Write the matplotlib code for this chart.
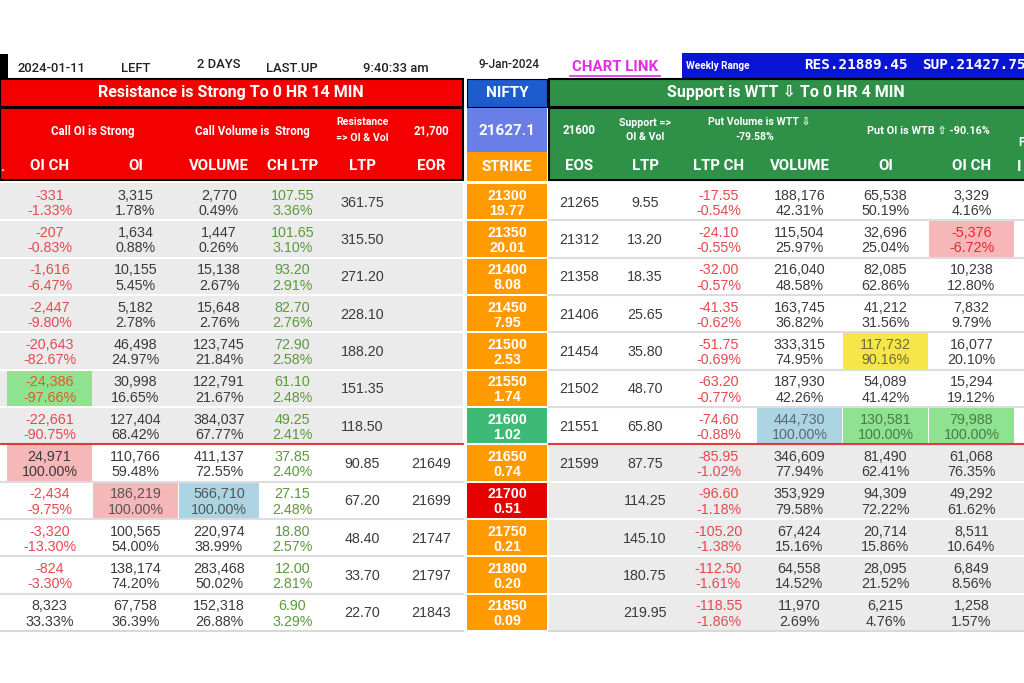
import matplotlib
matplotlib.use("Agg")
import matplotlib.pyplot as plt
from matplotlib.patches import Rectangle

# ---------------- data ----------------
strikes = [21300, 21350, 21400, 21450, 21500, 21550, 21600, 21650, 21700, 21750, 21800, 21850]
pcr = [19.77, 20.01, 8.08, 7.95, 2.53, 1.74, 1.02, 0.74, 0.51, 0.21, 0.20, 0.09]

call_oich = [-331, -207, -1616, -2447, -20643, -24386, -22661, 24971, -2434, -3320, -824, 8323]
call_oich_pct = [-1.33, -0.83, -6.47, -9.80, -82.67, -97.66, -90.75, 100.00, -9.75, -13.30, -3.30, 33.33]
call_oi = [3315, 1634, 10155, 5182, 46498, 30998, 127404, 110766, 186219, 100565, 138174, 67758]
call_oi_pct = [1.78, 0.88, 5.45, 2.78, 24.97, 16.65, 68.42, 59.48, 100.00, 54.00, 74.20, 36.39]
call_vol = [2770, 1447, 15138, 15648, 123745, 122791, 384037, 411137, 566710, 220974, 283468, 152318]
call_vol_pct = [0.49, 0.26, 2.67, 2.76, 21.84, 21.67, 67.77, 72.55, 100.00, 38.99, 50.02, 26.88]
call_chltp = [107.55, 101.65, 93.20, 82.70, 72.90, 61.10, 49.25, 37.85, 27.15, 18.80, 12.00, 6.90]
call_chltp_pct = [3.36, 3.10, 2.91, 2.76, 2.58, 2.48, 2.41, 2.40, 2.48, 2.57, 2.81, 3.29]
call_ltp = [361.75, 315.50, 271.20, 228.10, 188.20, 151.35, 118.50, 90.85, 67.20, 48.40, 33.70, 22.70]
eor = [None, None, None, None, None, None, None, 21649, 21699, 21747, 21797, 21843]

eos = [21265, 21312, 21358, 21406, 21454, 21502, 21551, 21599, None, None, None, None]
put_ltp = [9.55, 13.20, 18.35, 25.65, 35.80, 48.70, 65.80, 87.75, 114.25, 145.10, 180.75, 219.95]
put_ltpch = [-17.55, -24.10, -32.00, -41.35, -51.75, -63.20, -74.60, -85.95, -96.60, -105.20, -112.50, -118.55]
put_ltpch_pct = [-0.54, -0.55, -0.57, -0.62, -0.69, -0.77, -0.88, -1.02, -1.18, -1.38, -1.61, -1.86]
put_vol = [188176, 115504, 216040, 163745, 333315, 187930, 444730, 346609, 353929, 67424, 64558, 11970]
put_vol_pct = [42.31, 25.97, 48.58, 36.82, 74.95, 42.26, 100.00, 77.94, 79.58, 15.16, 14.52, 2.69]
put_oi = [65538, 32696, 82085, 41212, 117732, 54089, 130581, 81490, 94309, 20714, 28095, 6215]
put_oi_pct = [50.19, 25.04, 62.86, 31.56, 90.16, 41.42, 100.00, 62.41, 72.22, 15.86, 21.52, 4.76]
put_oich = [3329, -5376, 10238, 7832, 16077, 15294, 79988, 61068, 49292, 8511, 6849, 1258]
put_oich_pct = [4.16, -6.72, 12.80, 9.79, 20.10, 19.12, 100.00, 76.35, 61.62, 10.64, 8.56, 1.57]

call_headers = ["OI CH", "OI", "VOLUME", "CH LTP", "LTP", "EOR"]
put_headers = ["EOS", "LTP", "LTP CH", "VOLUME", "OI", "OI CH"]
top_labels = ["2024-01-11", "LEFT", "2 DAYS", "LAST.UP", "9:40:33 am", "9-Jan-2024"]
res_banner = "Resistance is Strong To 0 HR 14 MIN"
sup_banner = "Support is WTT \u21e9 To 0 HR 4 MIN"
nifty_spot = "21627.1"
weekly_res = "RES.21889.45"
weekly_sup = "SUP.21427.75"

# ---------------- layout ----------------
W, H = 1024, 683
fig = plt.figure(figsize=(W / 100, H / 100), dpi=100)
ax = fig.add_axes([0, 0, 1, 1])
ax.set_xlim(0, W)
ax.set_ylim(H, 0)
ax.axis("off")

LCOLS = [(7, 92), (93, 178), (179, 259), (260, 325), (325, 400), (400, 463)]
SCOL = (467, 547)
RCOLS = [(549, 610), (610, 680), (680, 757), (757, 842), (843, 928), (929, 1014)]
ROW0, ROWH = 183, 37.33
NROW = len(strikes)

RED = "#f40000"
GREEN = "#2f9048"
ORANGE = "#ff9a00"
GRAY = "#ebebeb"
TXT = "#3a3a3a"
NEG = "#e5484f"
POS_G = "#5a9a3a"
PINK = "#f6b7b9"
LBLUE = "#acd4e2"
LGREEN = "#8fe28f"
YELLOW = "#f7e64a"

DATAFONT = ["Liberation Sans", "DejaVu Sans"]
HEADFONT = ["Roboto", "DejaVu Sans"]


def rect(x0, y0, x1, y1, fc, ec="none", lw=0, z=1):
    ax.add_patch(Rectangle((x0, y0), x1 - x0, y1 - y0, facecolor=fc, edgecolor=ec, linewidth=lw, zorder=z))


def txt(x, y, s, size=10.3, color=TXT, weight="normal", family=DATAFONT, ha="center", **kw):
    ax.text(x, y, s, fontsize=size, color=color, fontweight=weight, family=family,
            ha=ha, va="center", zorder=5, **kw)


def row_y(i):
    return ROW0 + i * ROWH, ROW0 + (i + 1) * ROWH


# ---------------- top info row ----------------
rect(0, 54, 8, 78, "black")
top_x = [51, 136, 219, 292, 396, 509]
top_dy = [68, 68, 64, 68, 68, 65]
for lab, x, y in zip(top_labels, top_x, top_dy):
    txt(x, y, lab, size=9.4 if lab != top_labels[-1] else 8.6, color="#222222",
        weight="medium", family=HEADFONT)
txt(615, 67, "CHART LINK", size=10.8, color="#e22ee6", weight="bold", family=HEADFONT)
ax.plot([570, 660], [75.5, 75.5], color="#e22ee6", lw=1.2, zorder=5)
rect(682, 53, W, 78, "#0a14d4")
txt(686, 66, "Weekly Range", size=7.2, color="white", weight="bold", family=HEADFONT, ha="left")
txt(856, 65, weekly_res, size=10.4, color="white", weight="bold", family=["DejaVu Sans Mono"])
txt(922, 65, weekly_sup, size=10.4, color="white", weight="bold", family=["DejaVu Sans Mono"], ha="left")

# ---------------- headers ----------------
# red call block
rect(0, 79, 463, 107, RED, ec="black", lw=1.5, z=2)
rect(0, 108, 463, 180, RED, ec="black", lw=1.5, z=2)
txt(231, 93, res_banner, size=11.5, color="white", weight="bold", family=HEADFONT)
txt((LCOLS[0][0] + LCOLS[1][1]) / 2, 131, "Call OI is Strong", size=8.3, color="white", weight="bold", family=HEADFONT)
txt((LCOLS[2][0] + LCOLS[3][1]) / 2, 131, "Call Volume is  Strong", size=8.3, color="white", weight="bold", family=HEADFONT)
txt(sum(LCOLS[4]) / 2, 122, "Resistance", size=7.6, color="white", weight="bold", family=HEADFONT)
txt(sum(LCOLS[4]) / 2, 138, "=> OI & Vol", size=7.6, color="white", weight="bold", family=HEADFONT)
txt(sum(LCOLS[5]) / 2, 131, "21,700", size=8.3, color="white", weight="bold", family=HEADFONT)
txt(2, 167, ".", size=10.5, color="white", weight="bold", family=HEADFONT)
for (x0, x1), h in zip(LCOLS, call_headers):
    txt((x0 + x1) / 2, 166, h, size=10.8, color="white", weight="bold", family=HEADFONT)

# middle NIFTY block
rect(SCOL[0], 79, SCOL[1], 107, "#1c5ccc", ec="black", lw=0.8, z=2)
rect(SCOL[0], 108, SCOL[1], 152, "#6a7ee8", z=2)
rect(SCOL[0], 152, SCOL[1], 181, ORANGE, z=2)
cx = sum(SCOL) / 2
txt(cx, 93, "NIFTY", size=11, color="white", weight="bold", family=HEADFONT)
txt(cx, 131, nifty_spot, size=11, color="white", weight="bold", family=HEADFONT)
txt(cx, 167, "STRIKE", size=10.8, color="white", weight="bold", family=HEADFONT)

# green put block
rect(549, 79, W + 2, 107, GREEN, ec="black", lw=1.5, z=2)
rect(549, 108, W + 2, 180, GREEN, ec="black", lw=1.5, z=2)
txt(786, 93, sup_banner, size=11.5, color="white", weight="bold", family=HEADFONT)
txt(sum(RCOLS[0]) / 2, 131, "21600", size=8.3, color="white", weight="bold", family=HEADFONT)
txt(sum(RCOLS[1]) / 2, 123, "Support =>", size=7.6, color="white", weight="bold", family=HEADFONT)
txt(sum(RCOLS[1]) / 2, 137, "OI & Vol", size=7.6, color="white", weight="bold", family=HEADFONT)
txt(759, 122, "Put Volume is WTT \u21e9", size=7.6, color="white", weight="bold", family=HEADFONT)
txt(755, 137, "-79.58%", size=7.6, color="white", weight="bold", family=HEADFONT)
txt((RCOLS[4][0] + RCOLS[5][1]) / 2, 131, "Put OI is WTB \u21e7 -90.16%", size=7.8, color="white", weight="bold", family=HEADFONT)
txt(1018, 143, "P", size=8.3, color="white", weight="bold", family=HEADFONT, ha="left")
txt(1017, 167, "I", size=10.8, color="white", weight="bold", family=HEADFONT, ha="left")
for (x0, x1), h in zip(RCOLS, put_headers):
    txt((x0 + x1) / 2, 166, h, size=10.8, color="white", weight="bold", family=HEADFONT)

# ---------------- data rows ----------------
split = strikes.index(21600)
max_call_oi = strikes[call_oi.index(max(call_oi))]


def fmt_int(v):
    return f"{v:,}"


def fmt_pct(v):
    return f"{v:.2f}%"


for i in range(NROW):
    y0, y1 = row_y(i)
    yc = (y0 + y1) / 2
    upper = i <= split
    lbg = GRAY if upper else "white"
    rbg = "white" if upper else GRAY
    lsep = "white" if upper else "#dddddd"
    rsep = "#dddddd" if upper else "white"
    rect(0, y0, 463, y1, lbg, z=1)
    rect(549, y0, W, y1, rbg, z=1)
    ax.plot([0, 463], [y1, y1], color=lsep, lw=1.5, zorder=1.5)
    ax.plot([549, W], [y1, y1], color=rsep, lw=1.5, zorder=1.5)

    # strike cell
    s = strikes[i]
    sc = "#3dba76" if s == 21600 else ("#e60000" if s == max_call_oi else ORANGE)
    rect(SCOL[0], y0 + 1, SCOL[1], y1 - 1, sc, z=2)
    txt(cx, yc - 6, str(s), color="white", weight="bold")
    txt(cx, yc + 9, f"{pcr[i]:.2f}", color="white", weight="bold")

    def two(col, a, b, ca, cb=None, fc=None, w="normal"):
        x0, x1 = col
        if fc is not None:
            rect(x0, y0 + 1, x1, y1 - 1, fc, z=2)
        txt((x0 + x1) / 2, yc - 6, a, color=ca, weight=w)
        txt((x0 + x1) / 2, yc + 9.5, b, color=cb or ca, weight=w)

    # call side
    v = call_oich[i]
    fc = None
    col = NEG if v < 0 else TXT
    if call_oich_pct[i] <= -95:
        fc, col = LGREEN, "#e8552a"
    elif call_oich_pct[i] >= 100:
        fc = PINK
    two(LCOLS[0], fmt_int(v), fmt_pct(call_oich_pct[i]), col, fc=fc)
    fc = PINK if call_oi_pct[i] >= 100 else None
    two(LCOLS[1], fmt_int(call_oi[i]), fmt_pct(call_oi_pct[i]), TXT if fc is None else "#555555", fc=fc)
    fc = LBLUE if call_vol_pct[i] >= 100 else None
    two(LCOLS[2], fmt_int(call_vol[i]), fmt_pct(call_vol_pct[i]), TXT if fc is None else "#555555", fc=fc)
    two(LCOLS[3], f"{call_chltp[i]:.2f}", fmt_pct(call_chltp_pct[i]), POS_G)
    txt(sum(LCOLS[4]) / 2, yc + 1, f"{call_ltp[i]:.2f}")
    if eor[i] is not None:
        txt(sum(LCOLS[5]) / 2, yc + 1, str(eor[i]))

    # put side
    if eos[i] is not None:
        txt(sum(RCOLS[0]) / 2, yc + 1, str(eos[i]))
    txt(sum(RCOLS[1]) / 2, yc + 1, f"{put_ltp[i]:.2f}")
    two(RCOLS[2], f"{put_ltpch[i]:.2f}", fmt_pct(put_ltpch_pct[i]), NEG)
    fc = LBLUE if put_vol_pct[i] >= 100 else None
    two(RCOLS[3], fmt_int(put_vol[i]), fmt_pct(put_vol_pct[i]), TXT if fc is None else "#5a6a70", fc=fc)
    if put_oi_pct[i] >= 100:
        fc, col = LGREEN, "#4a7a4a"
    elif put_oi_pct[i] >= 90:
        fc, col = YELLOW, "#6a6a3a"
    else:
        fc, col = None, TXT
    two(RCOLS[4], fmt_int(put_oi[i]), fmt_pct(put_oi_pct[i]), col, fc=fc)
    v = put_oich[i]
    if put_oich_pct[i] >= 100:
        fc, col = LGREEN, "#4a7a4a"
    elif v < 0:
        fc, col = PINK, "#e8262c"
    else:
        fc, col = None, TXT
    two(RCOLS[5], fmt_int(v), fmt_pct(put_oich_pct[i]), col, fc=fc)

# red separator below ATM row
ysep = row_y(split)[1]
ax.plot([0, 463], [ysep, ysep], color="#e03a3a", lw=1.5, zorder=3)
ax.plot([549, W], [ysep, ysep], color="#e03a3a", lw=1.5, zorder=3)
yend = row_y(NROW - 1)[1]
ax.plot([0, 463], [yend, yend], color="#d8d8d8", lw=1.5, zorder=3)
ax.plot([549, W], [yend, yend], color="#d8d8d8", lw=1.5, zorder=3)

fig.savefig("out.png", dpi=100, facecolor="white")
